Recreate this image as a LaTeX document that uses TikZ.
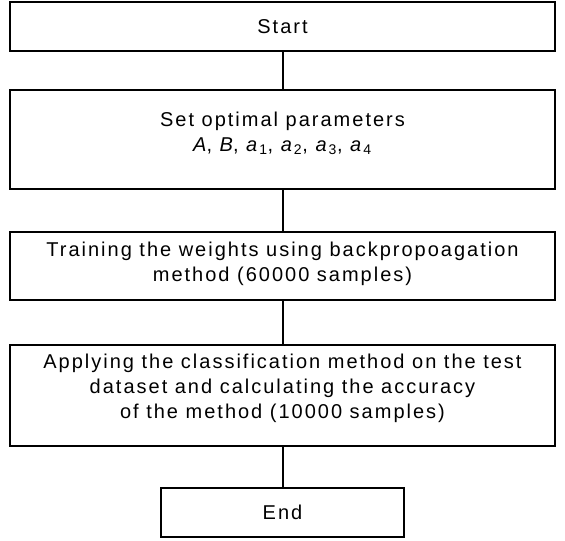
\documentclass[tikz,border=0pt]{standalone}
\usepackage{fontspec}
\setmainfont[LetterSpace=10]{Liberation Sans}
\usepackage{tikz}

\begin{document}
\begin{tikzpicture}[x=0.75pt,y=-0.75pt]
      \useasboundingbox (0,0) rectangle (565,540);
      \tikzstyle {flowbox} = [shape=rectangle, draw=black, line width=1.5pt, minimum width=545*0.75pt, inner sep=0pt];
      \tikzstyle {flowtext} = [align=center, font=\fontsize{15}{18.75}\selectfont, inner sep=0pt];
      \node (start) [flowbox, minimum height=49*0.75pt] at (282.5,26.5) {};
      \node (startlbl) [flowtext] at (282.5,26.5) {Start};
      \node (params) [flowbox, minimum height=99*0.75pt] at (282.5,139.5) {};
      \node (paramslbl) [flowtext] at (282.5,133) {Set optimal parameters\\
        \textit{A}, \textit{B}, \textit{a}\textsubscript{1}, \textit{a}\textsubscript{2}, \textit{a}\textsubscript{3}, \textit{a}\textsubscript{4}};
      \node (train) [flowbox, minimum height=68*0.75pt] at (282.5,266) {};
      \node (trainlbl) [flowtext] at (282.5,264) {Training the weights using backpropoagation\\ method (60000 samples)};
      \node (apply) [flowbox, minimum height=101*0.75pt] at (282.5,395.5) {};
      \node (applylbl) [flowtext] at (282.5,388) {Applying the classification method on the test\\ dataset and calculating the accuracy\\ of the method (10000 samples)};
      \node (stop) [flowbox, minimum width=243*0.75pt, minimum height=49*0.75pt] at (282.5,512.5) {};
      \node (stoplbl) [flowtext] at (282.5,512.5) {End};
      \draw [line width=1.5pt] (start.south) -- (params.north);
      \draw [line width=1.5pt] (params.south) -- (train.north);
      \draw [line width=1.5pt] (train.south) -- (apply.north);
      \draw [line width=1.5pt] (apply.south) -- (stop.north);
\end{tikzpicture}
\end{document}
